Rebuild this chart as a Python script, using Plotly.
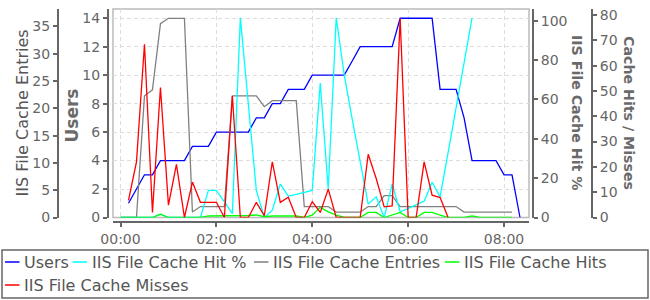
import plotly.graph_objects as go
import pandas as pd

W, H = 650, 300

# ---- data (10-minute samples starting 00:00) ----
times = pd.date_range("2024-01-01 00:00", periods=51, freq="10min")

users = [None, 1, 2, 3, 3, 4, 4, 4, 4, 5, 5, 5, 6, 6, 6, 6, 6, 7, 7, 8, 8, 9, 9, 9,
         10, 10, 10, 10, 10, 11, 12, 12, 12, 12, 12, 14, 14, 14, 14, 14, 9, 9, 9, 7,
         4, 4, 4, 4, 3, 3, 0]

hit_pct = [0, 0, 0, 0, 0, 1.7, 0, 0, 0, 0, 0, 13.8, 13.8, 8, 2, 101.5, 57, 13.8, 0,
           3.7, 17, 10.9, 11.8, 12.8, 13.8, 68.3, 14.5, 101.5, 72.5, 50, 29, 6.8, 10.5,
           0, 17, 2.9, 4.6, 6.5, 8.3, 17.9, 10.5, 33, 56, 79, 101.5,
           None, None, None, None, None, None]

entries = [0, 0, 0, 22.3, 23.4, 35.5, 36.5, 36.5, 36.5, 1, 2, 2, 2, 2, 22.3, 22.3,
           22.3, 22.3, 20.3, 21.4, 21.4, 21.4, 21.4, 2, 2, 2, 2, 1, 1, 1, 1, 2, 2, 4,
           4, 2, 2, 2, 2, 2, 2, 2, 2, 1, 1, 1, 1, 1, 1, 1, None]

hits = [0, 0, 0, 0, 0, 1.3, 0, 0, 0, 0, 0, 0.6, 0.6, 0.6, 0.6, 0.8, 0.8, 1, 0.3, 0.6,
        0.6, 0.6, 0.6, 0, 0.9, 4, 2.2, 0.9, 0, 0, 0, 2, 2, 0, 0.9, 2, 0, 0, 2, 2, 0.9,
        0, 0, 0, 0.6, 0, 0, 0, 0, 0, None]

misses = [None, 6.8, 22, 68.5, 2, 51.4, 4.9, 21, 0, 14, 6, 6, 6, 0, 48, 0, 0, 6, 0.7,
          22, 6, 8, 0, 0, 6.2, 2, 11.2, 0, 0, 0, 0, 25, 15.4, 4.2, 4.6, 78.7, 0, 0, 22,
          8.8, 7.9, 0, None, None, None, None, None, None, None, None, None]

names = ["Users", "IIS File Cache Hit %", "IIS File Cache Entries",
         "IIS File Cache Hits", "IIS File Cache Misses"]
colors = ["#0000FF", "#00FFFF", "#808080", "#00FF00", "#FF0000"]
series = [users, hit_pct, entries, hits, misses]
axes = ["y", "y3", "y2", "y4", "y4"]

x_ticks = ["00:00", "02:00", "04:00", "06:00", "08:00"]

FONT = "DejaVu Sans"
TICK = "#666666"
TXT = "#555555"

fig = go.Figure()
for name, col, ys, ax in zip(names, colors, series, axes):
    fig.add_trace(go.Scatter(x=times, y=ys, name=name, mode="lines",
                             line=dict(color=col, width=1.3), yaxis=ax,
                             connectgaps=False, showlegend=False))

px = lambda v: v / W
py = lambda v: 1 - v / H

plot_l, plot_r, plot_t, plot_b = 113, 529, 9, 217.5

common = dict(showline=True, linecolor="#666666", linewidth=2, ticks="outside",
              ticklen=4, tickcolor="#666666", tickwidth=1.5, zeroline=False,
              automargin=False,
              tickfont=dict(family=FONT, size=14, color=TICK))

fig.update_layout(
    width=W, height=H, margin=dict(l=0, r=0, t=0, b=0, autoexpand=False),
    paper_bgcolor="white", plot_bgcolor="white", showlegend=False,
    xaxis=dict(domain=[px(plot_l), px(plot_r)], anchor="free", position=py(222),
               type="date", range=["2023-12-31 23:50:37", "2024-01-01 08:31:15"],
               tickvals=[pd.Timestamp("2024-01-01 " + t) for t in x_ticks],
               ticktext=x_ticks,
               showgrid=True, gridcolor="#dddddd", griddash="4px,3px", gridwidth=1,
               **common),
    yaxis=dict(domain=[py(plot_b), py(plot_t)], anchor="free", position=px(108),
               side="left", range=[0, 14.65], dtick=2, showgrid=True,
               gridcolor="#dddddd", griddash="4px,3px", gridwidth=1, **common),
    yaxis2=dict(overlaying="y", anchor="free", position=px(58), side="left",
                range=[0, 38.2], dtick=5, showgrid=False, **common),
    yaxis3=dict(overlaying="y", anchor="free", position=px(533), side="right",
                range=[0, 106], dtick=20, showgrid=False, **common),
    yaxis4=dict(overlaying="y", anchor="free", position=px(592), side="right",
                range=[0, 82.4], dtick=10, showgrid=False, **common),
)

# plot frame
fig.add_shape(type="rect", xref="paper", yref="paper", x0=px(plot_l), x1=px(plot_r),
              y0=py(plot_b), y1=py(plot_t), line=dict(color="#bbbbbb", width=1.5),
              layer="below")

# axis titles
titles = [("IIS File Cache Entries", 22, 113.5, -90, 16, False),
          ("Users", 71, 115.5, -90, 17, True),
          ("IIS File Cache Hit %", 577.5, 112.5, 90, 14.2, True),
          ("Cache Hits / Misses", 629, 113, 90, 14.2, True)]
for t, x, y, ang, fs, bold in titles:
    fig.add_annotation(text=f"<b>{t}</b>" if bold else t, x=px(x), y=py(y),
                       xref="paper", yref="paper",
                       showarrow=False, textangle=ang, xanchor="center", yanchor="middle",
                       font=dict(family=FONT, size=fs, color="#6a6a6a" if bold else TXT))

# legend (manual)
fig.add_shape(type="rect", xref="paper", yref="paper", x0=px(2), x1=px(648),
              y0=py(298), y1=py(250), line=dict(color="#666666", width=1.5))
leg_pos = [(5, 262), (72.5, 262), (254, 262), (445, 262), (5, 285)]
for (lx, ly), name, col in zip(leg_pos, names, colors):
    fig.add_shape(type="line", xref="paper", yref="paper", x0=px(lx), x1=px(lx + 14.5),
                  y0=py(ly), y1=py(ly), line=dict(color=col, width=1.5))
    fig.add_annotation(text=name, x=px(lx + 17), y=py(ly), xref="paper", yref="paper",
                       showarrow=False, xanchor="left", yanchor="middle",
                       font=dict(family=FONT, size=16, color=TXT))

fig.write_html("out.html")
